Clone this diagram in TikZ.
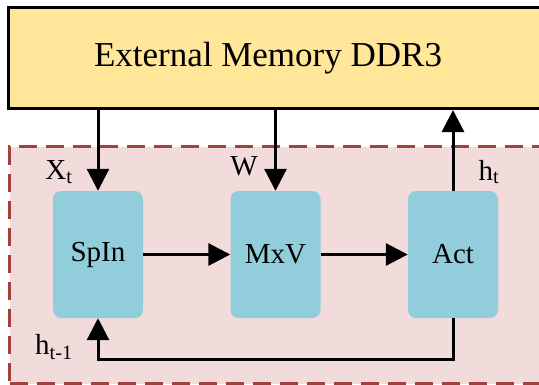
\documentclass[tikz,border=0pt]{standalone}
\usepackage{fontspec}
\setmainfont{Liberation Serif}
\usetikzlibrary{arrows.meta}

\definecolor{memfill}{HTML}{FFE699}
\definecolor{corefill}{HTML}{F2DCDB}
\definecolor{coreline}{HTML}{A0413C}
\definecolor{unitfill}{HTML}{92CDDC}

\tikzset{
  unit/.style={rectangle, rounded corners=8pt, fill=unitfill, minimum width=90pt, minimum height=127pt, font=\fontsize{29}{32}\selectfont},
  sig/.style={font=\fontsize{29}{32}\selectfont},
  arr/.style={line width=3pt, -{Triangle[length=22pt,width=22pt]}}
}

\begin{document}
\begin{tikzpicture}[x=1pt, y=-1pt]
    \useasboundingbox (0,0) rectangle (539,384);

    % memory on top
    \node[draw, line width=3pt, fill=memfill, minimum width=570pt, minimum height=101pt, anchor=north west] (mem) at (7,6) {};
    \node[font=\fontsize{35}{38}\selectfont] (memtext) at (268,58) {External Memory DDR3};

    % accelerator region
    \node[draw=coreline, dashed, dash pattern=on 18pt off 9pt, line width=3pt, fill=corefill, minimum width=570pt, minimum height=237pt, anchor=north west] (core) at (8,145) {};

    \node[unit] (spin) at (98,254.5) {SpIn};
    \node[unit] (mxv) at (275.5,254.5) {MxV};
    \node[unit] (act) at (453,254.5) {Act};

    % labels
    \node[sig] (xt) at (59,172) {X\textsubscript{t}};
    \node[sig] (w) at (244,166) {W};
    \node[sig] (ht) at (489,172) {h\textsubscript{t}};
    \node[sig] (htm) at (54,347) {h\textsubscript{t-1}};

    \draw[arr] (mem.south -| spin.north) -- (spin.north);
    \draw[arr] (mem.south -| mxv.north) -- (mxv.north);
    \draw[arr] (act.north) -- (mem.south -| act.north);
    \draw[arr] (spin) -- (mxv);
    \draw[arr] (mxv) -- (act);
    \draw[arr] (act.south) -- ++(0,41) -| (spin.south);
\end{tikzpicture}
\end{document}
